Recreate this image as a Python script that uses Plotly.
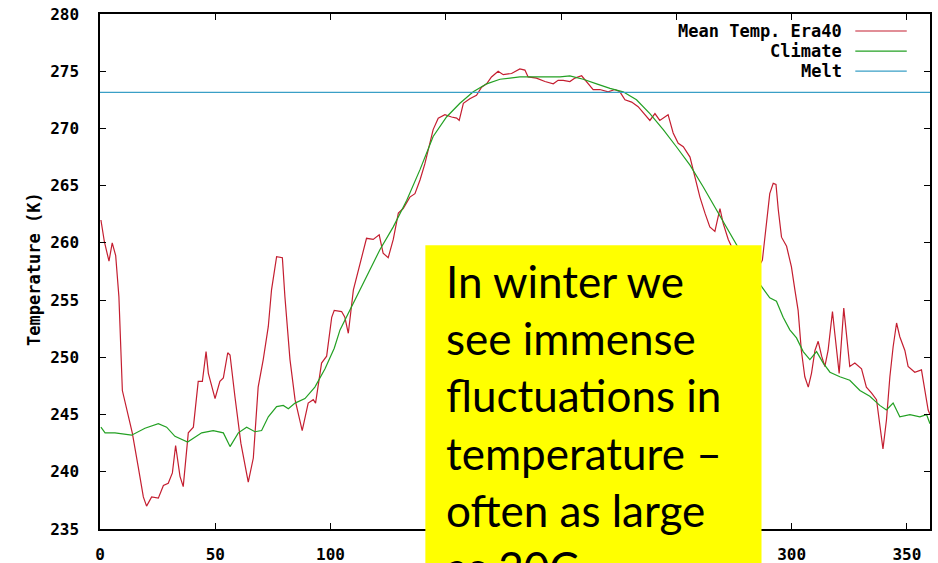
import plotly.graph_objects as go

# Daily mean temperature (ERA40)
era_day = [0.4, 1.9, 3.9, 5.3, 6.8, 8.2, 9.7, 12.3, 14.0, 16.6, 18.8, 20.2, 22.4, 25.3, 27.5, 29.6,
           31.4, 32.8, 34.7, 36.1, 38.3, 40.5, 42.6, 44.4, 46.0, 47.0, 49.9, 52.0, 53.5, 55.4, 56.4,
           58.5, 61.1, 64.3, 66.5, 68.6, 70.8, 73.0, 74.4, 76.6, 79.1, 80.2, 82.4, 84.6, 87.7, 90.3,
           92.5, 93.5, 96.1, 98.3, 100.5, 101.6, 104.8, 106.2, 107.7, 109.9, 112.7, 115.6, 118.5,
           121.1, 122.8, 125.0, 127.2, 129.4, 131.5, 134.4, 136.6, 138.8, 140.9, 142.4, 144.5, 146.7,
           149.6, 152.5, 154.7, 155.8, 157.6, 160.4, 163.3, 165.5, 167.7, 169.8, 172.7, 174.9, 178.5,
           182.1, 184.3, 185.7, 189.3, 193.0, 196.6, 198.7, 200.9, 203.8, 206.0, 208.9, 211.0, 213.9,
           216.8, 220.4, 223.3, 225.5, 227.7, 230.6, 233.4, 236.3, 238.5, 240.7, 242.8, 246.4, 248.6,
           250.8, 253.0, 255.9, 258.0, 260.2, 262.4, 264.5, 266.7, 268.9, 270.3, 272.5, 275.0, 278.0,
           281.0, 284.0, 287.3, 289.1, 290.5, 292.0, 293.2, 294.2, 295.6, 297.8, 299.9, 301.4, 302.8,
           304.2, 305.7, 307.2, 308.6, 310.1, 311.5, 313.0, 314.4, 315.8, 317.7, 318.7, 320.6, 322.6,
           324.0, 325.2, 327.4, 330.3, 332.4, 334.6, 336.8, 338.2, 339.6, 341.1, 342.6, 344.0, 345.5,
           346.9, 349.1, 350.5, 353.4, 356.3, 357.8, 359.2, 360.0]
era_temp = [262.0, 260.1, 258.4, 260.0, 258.9, 255.3, 247.1, 244.8, 243.4, 240.4, 237.8, 237.0, 237.8,
            237.7, 238.8, 239.0, 239.9, 242.3, 239.6, 238.7, 243.4, 243.9, 247.9, 247.9, 250.5, 248.6,
            246.4, 247.9, 248.2, 250.4, 250.2, 246.6, 242.5, 239.1, 241.2, 247.4, 249.8, 252.7, 255.9,
            258.8, 258.7, 255.3, 249.8, 246.3, 243.6, 246.0, 246.3, 246.0, 249.5, 250.1, 253.5, 254.1,
            254.0, 253.5, 252.1, 255.9, 258.2, 260.4, 260.3, 260.7, 259.1, 258.7, 260.3, 262.6, 263.0,
            264.0, 264.3, 265.5, 266.9, 268.1, 269.9, 270.9, 271.2, 271.0, 270.9, 270.7, 272.2, 272.6,
            272.9, 273.6, 273.9, 274.5, 275.0, 274.7, 274.8, 275.2, 275.1, 274.5, 274.4, 274.1, 273.9,
            274.2, 274.2, 274.1, 274.4, 274.6, 274.1, 273.4, 273.4, 273.2, 273.4, 273.2, 272.5, 272.3,
            271.9, 271.2, 270.7, 271.3, 270.7, 271.2, 269.6, 268.7, 268.4, 267.5, 265.8, 264.0, 262.6,
            261.4, 261.0, 263.0, 261.7, 260.3, 259.2, 257.5, 256.8, 257.3, 258.5, 262.0, 264.3, 265.2,
            265.1, 262.9, 260.5, 259.7, 257.9, 255.9, 254.1, 250.6, 248.3, 247.4, 248.6, 250.6, 251.4,
            250.1, 249.2, 250.6, 254.0, 252.1, 248.6, 254.3, 251.5, 249.2, 249.5, 249.0, 247.4, 246.9,
            246.3, 244.2, 242.0, 244.5, 248.3, 250.9, 253.0, 251.8, 250.6, 249.2, 248.7, 248.9, 246.9,
            245.4, 245.0]

# Climatology
clim_day = [0.4, 2.2, 6.5, 13.7, 19.5, 25.3, 28.9, 32.5, 38.0, 44.1, 49.1, 53.5, 56.4, 60.0, 63.6,
            67.2, 70.1, 73.0, 76.6, 79.5, 81.7, 84.6, 88.9, 93.2, 97.6, 101.6, 104.1, 109.9, 115.6,
            121.4, 127.2, 133.0, 138.8, 144.5, 150.3, 156.1, 161.9, 167.7, 173.5, 182.1, 190.8, 199.5,
            203.8, 209.6, 215.4, 221.2, 226.9, 232.7, 238.5, 244.3, 250.0, 255.9, 261.6, 267.4, 273.2,
            279.0, 284.8, 287.6, 290.5, 293.4, 296.3, 299.2, 302.1, 305.0, 307.9, 310.8, 313.7, 316.6,
            320.9, 325.2, 329.6, 333.9, 338.2, 341.1, 344.0, 346.9, 351.3, 355.6, 358.5, 360.0]
clim_temp = [243.9, 243.4, 243.4, 243.2, 243.8, 244.2, 243.9, 243.1, 242.6, 243.4, 243.6, 243.4, 242.2,
             243.4, 243.9, 243.5, 243.6, 244.8, 245.7, 245.8, 245.5, 246.0, 246.4, 247.4, 249.0, 250.8,
             252.4, 254.7, 257.0, 259.4, 261.4, 263.7, 266.4, 269.3, 271.0, 272.2, 273.2, 273.9, 274.3,
             274.5, 274.5, 274.5, 274.6, 274.3, 273.9, 273.5, 273.2, 272.5, 271.3, 269.9, 268.4, 266.8,
             264.9, 262.9, 260.8, 258.8, 256.8, 256.0, 255.2, 254.9, 253.5, 252.4, 251.7, 250.5, 249.8,
             250.5, 249.5, 248.7, 248.3, 248.0, 247.1, 246.6, 245.8, 245.4, 246.0, 244.8, 245.0, 244.8,
             245.0, 244.2]

melt_day = [0, 360]
melt_temp = [273.15, 273.15]

labels = ["Mean Temp. Era40", "Climate", "Melt"]
colors = ["#c41e30", "#23a023", "#3a9fc6"]
note = "In winter we<br>see immense<br>fluctuations in<br>temperature –<br>often as large<br>as 20C"

tick_font = dict(family="DejaVu Sans Mono", size=16, color="black", weight="bold")
key_font = dict(family="DejaVu Sans Mono", size=17, color="black", weight="bold")

fig = go.Figure()
for x, y, c in [(era_day, era_temp, colors[0]), (clim_day, clim_temp, colors[1]),
                (melt_day, melt_temp, colors[2])]:
    fig.add_trace(go.Scatter(x=x, y=y, mode="lines", line=dict(color=c, width=1.2),
                             showlegend=False, hoverinfo="skip"))

# gnuplot style key: text on the left, line sample on the right
for i, (lab, c) in enumerate(zip(labels, colors)):
    yy = 0.967 - i * 0.039
    fig.add_annotation(x=0.896, y=yy, xref="paper", yref="paper", text=lab, showarrow=False,
                       xanchor="right", yanchor="middle", font=key_font)
    fig.add_shape(type="line", xref="paper", yref="paper", x0=0.91, x1=0.972, y0=yy, y1=yy,
                  line=dict(color=c, width=1.2))

fig.add_annotation(x=-0.094, y=0.505, xref="paper", yref="paper", text="Temperature (K)",
                   textangle=-90, showarrow=False, font=key_font)

# yellow call-out box
fig.add_shape(type="rect", xref="paper", yref="paper", x0=0.392, x1=0.797, y0=-0.2, y1=0.551,
              fillcolor="#ffff00", line=dict(width=0), layer="above")
fig.add_annotation(x=0.415, y=0.535, xref="paper", yref="paper", text=note, showarrow=False,
                   xanchor="left", yanchor="top", align="left",
                   font=dict(family="Lato", size=44, color="black"))

axis_style = dict(showline=True, linecolor="black", linewidth=1.5, mirror="allticks",
                  ticks="inside", ticklen=6, tickcolor="black", tickwidth=1.2,
                  showgrid=False, zeroline=False, tickfont=tick_font, automargin=False)
fig.update_xaxes(range=[0, 360], dtick=50, tick0=0, ticklabelstandoff=10, **axis_style)
fig.update_yaxes(range=[235, 280], dtick=5, tick0=235, ticklabelstandoff=16, **axis_style)

fig.update_layout(width=938, height=563, margin=dict(l=100, r=8, t=14, b=34),
                  plot_bgcolor="white", paper_bgcolor="white")

# page body has a default 8px margin; drop it so the figure sits at the window corner
fig.write_html("out.html", config={"displayModeBar": False},
               post_script="document.body.style.margin='0';")
